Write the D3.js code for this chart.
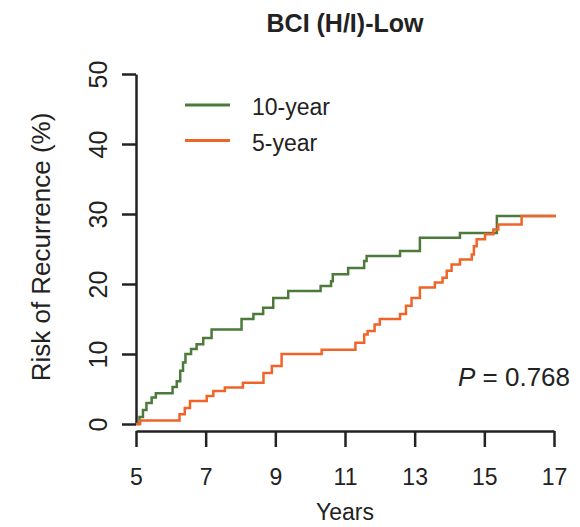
<!DOCTYPE html>
<html>
<head>
<meta charset="utf-8">
<script src="https://cdn.jsdelivr.net/npm/d3@7"></script>
<style>
  body { margin: 0; background: #fff; }
  svg text { font-family: "Liberation Sans", Arial, sans-serif; fill: #222; }
</style>
</head>
<body>
<svg id="chart" width="580" height="527"></svg>
<script>
// Data (years, cumulative risk %)
const tenYearTimes = [5.0, 5.1, 5.2, 5.3, 5.45, 5.57, 6.05, 6.17, 6.27, 6.35, 6.42, 6.58, 6.74, 6.93, 7.17,
    8.03, 8.37, 8.65, 8.94, 9.37, 10.3, 10.6, 10.65, 11.09, 11.55, 11.62, 12.58, 13.15, 14.3, 15.36, 17.05];
const tenYearRisk = [0, 1.0, 2.0, 3.0, 3.8, 4.4, 5.3, 6.1, 7.6, 8.8, 10.0, 10.7, 11.4, 12.3, 13.5,
    15.0, 15.7, 16.6, 18.0, 19.0, 19.7, 20.4, 21.4, 22.3, 23.3, 24.0, 24.7, 26.6, 27.3, 29.7, 29.7];

const fiveYearTimes = [5.0, 5.12, 6.25, 6.4, 6.55, 7.03, 7.22, 7.55, 8.07, 8.66, 8.9, 9.18, 10.33, 11.3,
    11.55, 11.65, 11.85, 12.0, 12.58, 12.75, 12.91, 13.15, 13.58, 13.8, 13.92, 14.06, 14.3, 14.64, 14.7,
    14.78, 15.02, 15.26, 15.4, 16.07, 17.05];
const fiveYearRisk = [0, 0.5, 1.4, 2.3, 3.3, 4.0, 4.7, 5.2, 5.9, 7.3, 8.3, 10.0, 10.6, 11.6,
    12.8, 13.3, 14.2, 15.0, 15.7, 16.9, 18.0, 19.5, 20.2, 20.9, 21.9, 22.8, 23.5, 24.2, 25.4,
    26.4, 27.1, 27.8, 28.5, 29.7, 29.7];

const xTicks = [5, 7, 9, 11, 13, 15, 17];
const yTicks = [0, 10, 20, 30, 40, 50];
const seriesNames = ["10-year", "5-year"];
const seriesColors = ["#4b7a3a", "#f0642a"];

const svg = d3.select("svg#chart");

// scales
const x = d3.scaleLinear().domain([5, 17]).range([136, 554]);
const y = d3.scaleLinear().domain([0, 50]).range([424, 74]);

// title
svg.append("text")
    .attr("x", 345)
    .attr("y", 32)
    .attr("text-anchor", "middle")
    .style("font-size", "25px")
    .style("font-weight", "bold")
    .text("BCI (H/I)-Low");

// x axis
const xAxis = svg.append("g")
    .attr("transform", "translate(0,431)")
    .call(d3.axisBottom(x).tickValues(xTicks).tickSize(16).tickSizeOuter(0).tickPadding(22));
xAxis.select(".domain").attr("stroke", "#222").attr("stroke-width", 2.5);
xAxis.selectAll(".tick line").attr("stroke", "#222").attr("stroke-width", 2.5);
xAxis.selectAll(".tick text")
    .style("font-size", "23px")
    .attr("fill", "#222");

svg.append("text")
    .attr("x", 345)
    .attr("y", 520)
    .attr("text-anchor", "middle")
    .style("font-size", "23px")
    .text("Years");

// y axis
const yAxis = svg.append("g")
    .attr("transform", "translate(136,0)")
    .call(d3.axisLeft(y).tickValues(yTicks).tickSize(14).tickSizeOuter(0));
yAxis.select(".domain").attr("stroke", "#222").attr("stroke-width", 2.5);
yAxis.selectAll(".tick line").attr("stroke", "#222").attr("stroke-width", 2.5);
yAxis.selectAll(".tick text")
    .attr("x", null)
    .attr("dy", null)
    .attr("transform", "translate(-29,0) rotate(-90)")
    .attr("text-anchor", "middle")
    .style("font-size", "25px")
    .attr("fill", "#222");

svg.append("text")
    .attr("transform", "translate(50,247) rotate(-90)")
    .attr("text-anchor", "middle")
    .style("font-size", "26px")
    .text("Risk of Recurrence (%)");

// curves
const line = d3.line()
    .x(d => x(d[0]))
    .y(d => y(d[1]))
    .curve(d3.curveStepAfter);

const series = [
    d3.zip(tenYearTimes, tenYearRisk),
    d3.zip(fiveYearTimes, fiveYearRisk)
];

svg.selectAll("path.curve")
    .data(series)
    .enter()
    .append("path")
    .attr("class", "curve")
    .attr("d", line)
    .attr("fill", "none")
    .attr("stroke", (d, i) => seriesColors[i])
    .attr("stroke-width", 2.5);

// legend
const legend = svg.selectAll("g.legend")
    .data(seriesNames)
    .enter()
    .append("g")
    .attr("class", "legend")
    .attr("transform", (d, i) => "translate(185," + (105 + i * 35.5) + ")");

legend.append("line")
    .attr("x1", 0)
    .attr("x2", 45)
    .attr("stroke", (d, i) => seriesColors[i])
    .attr("stroke-width", 3);

legend.append("text")
    .attr("x", 67)
    .attr("y", 10)
    .style("font-size", "23px")
    .text(d => d);

// p value
const pText = svg.append("text")
    .attr("x", 458)
    .attr("y", 386)
    .style("font-size", "26px");
pText.append("tspan").style("font-style", "italic").text("P");
pText.append("tspan").text(" = 0.768");
</script>
</body>
</html>
